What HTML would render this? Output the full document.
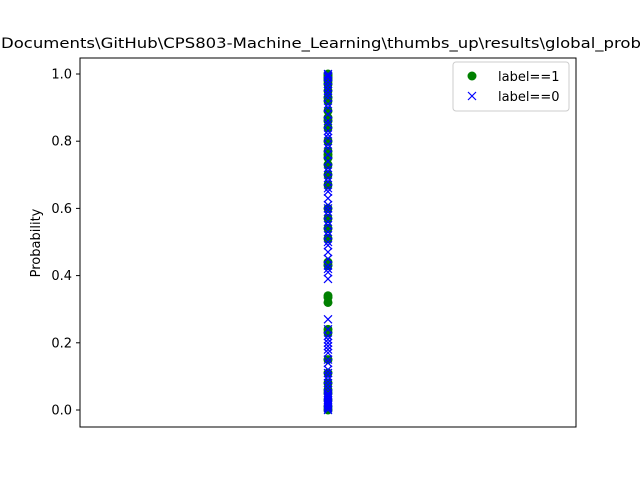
<!DOCTYPE html>
<html><head><meta charset="utf-8"><style>body{margin:0;background:#fff}svg{display:block;font-family:"DejaVu Sans","Liberation Sans",sans-serif}</style></head>
<body>
<svg id="chart" width="640" height="480">
<rect x="0" y="0" width="640" height="480" fill="#fff"/>
<text x="1" y="48" font-size="14.5" fill="#000" textLength="640" lengthAdjust="spacingAndGlyphs">Documents\GitHub\CPS803-Machine_Learning\thumbs_up\results\global_prob</text>
<g id="marks"></g>
<rect x="80" y="58" width="496" height="369" fill="none" stroke="#000" stroke-width="1"/>
<g id="yaxis"></g>
<text transform="translate(40,243) rotate(-90)" text-anchor="middle" font-size="13">Probability</text>
<g>
<rect x="453" y="62" width="116" height="49" rx="3" fill="#fff" stroke="#ccc"/>
<circle cx="472" cy="76" r="4.5" fill="green"/>
<text x="498" y="81" font-size="13">label==1</text>
<path d="M468 92 L476 100 M476 92 L468 100" stroke="blue" stroke-width="1.2"/>
<text x="498" y="101" font-size="13">label==0</text>
</g>
</svg>
<script>
const yTicks=[0,0.2,0.4,0.6,0.8,1.0];
const yTickLabels=["0.0","0.2","0.4","0.6","0.8","1.0"];
const xCategory=[0];
const greenValues=[1.0,0.995,0.99,0.985,0.98,0.97,0.95,0.93,0.92,0.89,0.87,0.86,0.84,0.80,0.77,0.76,0.75,0.73,0.70,0.67,0.60,0.57,0.54,0.51,0.44,0.43,0.34,0.335,0.32,0.24,0.23,0.15,0.11,0.08,0.06,0.05,0.03,0.01,0.0];
const blueValues=[1.0,0.995,0.99,0.98,0.97,0.96,0.95,0.94,0.93,0.91,0.90,0.88,0.86,0.85,0.83,0.82,0.81,0.79,0.78,0.76,0.74,0.72,0.71,0.69,0.68,0.66,0.65,0.63,0.61,0.60,0.59,0.58,0.56,0.55,0.53,0.52,0.50,0.49,0.47,0.45,0.43,0.42,0.41,0.39,0.27,0.24,0.22,0.21,0.20,0.19,0.18,0.17,0.15,0.14,0.12,0.11,0.10,0.09,0.08,0.07,0.06,0.05,0.045,0.04,0.035,0.03,0.025,0.02,0.015,0.01,0.005,0.0];
const NS="http://www.w3.org/2000/svg";
function yScale(v){return 410-v*336;}
function xScale(c){return 328+c*100;}
const marks=document.getElementById('marks');
const ya=document.getElementById('yaxis');
yTicks.forEach((t,i)=>{
 const l=document.createElementNS(NS,'line');
 l.setAttribute('x1',76);l.setAttribute('x2',80);l.setAttribute('y1',yScale(t));l.setAttribute('y2',yScale(t));l.setAttribute('stroke','#000');
 
 
 ya.appendChild(l);
 const tx=document.createElementNS(NS,'text');
 tx.setAttribute('x',72);tx.setAttribute('y',yScale(t)+4.5);tx.setAttribute('text-anchor','end');tx.setAttribute('font-size','13');
 tx.textContent=yTickLabels[i];
 
 
 ya.appendChild(tx);
});
greenValues.forEach(v=>{
 const c=document.createElementNS(NS,'circle');
 c.setAttribute('cx',xScale(xCategory[0]));c.setAttribute('cy',yScale(v));c.setAttribute('r',4.5);c.setAttribute('fill','green');
 
 
 marks.appendChild(c);
});
blueValues.forEach(v=>{
 const x=xScale(xCategory[0]),y=yScale(v);
 const p=document.createElementNS(NS,'path');
 p.setAttribute('d',`M${x-4} ${y-4} L${x+4} ${y+4} M${x+4} ${y-4} L${x-4} ${y+4}`);
 p.setAttribute('stroke','blue');p.setAttribute('stroke-width','1.2');p.setAttribute('fill','none');
 
 
 marks.appendChild(p);
});
</script>
</body></html>
